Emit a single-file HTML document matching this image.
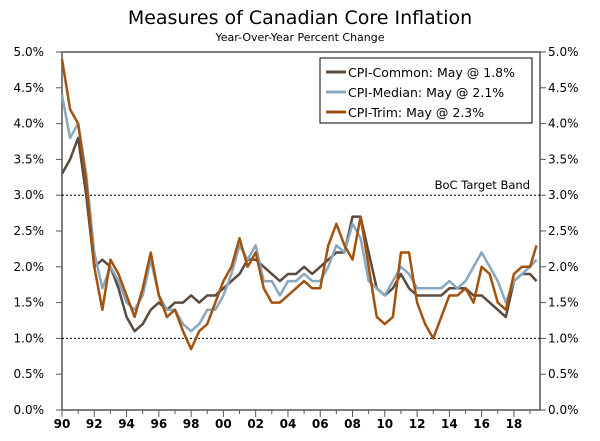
<!DOCTYPE html>
<html><head><meta charset="utf-8"><style>
body{margin:0;background:#fff;width:600px;height:436px;overflow:hidden}
svg{font-family:"DejaVu Sans","Liberation Sans",sans-serif}
</style></head><body>
<svg id="chart" width="600" height="436" viewBox="0 0 600 436">
<text x="300" y="24" text-anchor="middle" font-size="19" fill="#000">Measures of Canadian Core Inflation</text>
<text x="300" y="41" text-anchor="middle" font-size="11" fill="#000">Year-Over-Year Percent Change</text>
<g id="axes"></g><g id="series"></g>
<g>
<rect x="320" y="58" width="212" height="65" fill="#fff" stroke="#000" stroke-width="1"/>
<line x1="326" y1="72" x2="346" y2="72" stroke="#5a4a3f" stroke-width="3"/>
<text x="348" y="77" font-size="12.5">CPI-Common: May @ 1.8%</text>
<line x1="326" y1="92" x2="346" y2="92" stroke="#89a7bd" stroke-width="3"/>
<text x="348" y="97" font-size="12.5">CPI-Median: May @ 2.1%</text>
<line x1="326" y1="112" x2="346" y2="112" stroke="#a2520f" stroke-width="3"/>
<text x="348" y="117" font-size="12.5">CPI-Trim: May @ 2.3%</text>
</g>
<text x="530" y="189" text-anchor="end" font-size="11.5">BoC Target Band</text>
</svg>
<script>
const years=[];for(let i=0;i<59;i++)years.push(1990+i*0.5);years.push(2019.4);
const trim=[4.9,4.2,4.0,3.2,2.0,1.4,2.1,1.9,1.6,1.3,1.7,2.2,1.6,1.3,1.4,1.1,0.85,1.1,1.2,1.5,1.8,2.0,2.4,2.0,2.2,1.7,1.5,1.5,1.6,1.7,1.8,1.7,1.7,2.3,2.6,2.3,2.1,2.7,2.0,1.3,1.2,1.3,2.2,2.2,1.5,1.2,1.0,1.3,1.6,1.6,1.7,1.5,2.0,1.9,1.5,1.4,1.9,2.0,2.0,2.3];
const median=[4.4,3.8,4.0,3.3,2.2,1.7,2.0,1.8,1.5,1.4,1.6,2.1,1.6,1.4,1.4,1.2,1.1,1.2,1.4,1.4,1.6,1.9,2.3,2.1,2.3,1.8,1.8,1.6,1.8,1.8,1.9,1.8,1.8,2.0,2.3,2.2,2.6,2.4,1.8,1.7,1.6,1.8,2.0,1.9,1.7,1.7,1.7,1.7,1.8,1.7,1.8,2.0,2.2,2.0,1.8,1.5,1.8,1.9,2.0,2.1];
const common=[3.3,3.5,3.8,3.0,2.0,2.1,2.0,1.7,1.3,1.1,1.2,1.4,1.5,1.4,1.5,1.5,1.6,1.5,1.6,1.6,1.7,1.8,1.9,2.1,2.1,2.0,1.9,1.8,1.9,1.9,2.0,1.9,2.0,2.1,2.2,2.2,2.7,2.7,2.2,1.7,1.6,1.7,1.9,1.7,1.6,1.6,1.6,1.6,1.7,1.7,1.7,1.6,1.6,1.5,1.4,1.3,1.8,1.9,1.9,1.8];
const yTicks=[0,0.5,1,1.5,2,2.5,3,3.5,4,4.5,5];
const xTickLabels=["90","92","94","96","98","00","02","04","06","08","10","12","14","16","18"];
const X0=62,X1=540,Y0=410,Y1=52;
const xs=v=>X0+(v-1990)*16.14;
const ys=v=>Y0-(v/5)*(Y0-Y1);
const NS="http://www.w3.org/2000/svg";
const ax=document.getElementById('axes'),sg=document.getElementById('series');
function mk(tag,attrs,parent){const e=document.createElementNS(NS,tag);for(const k in attrs)e.setAttribute(k,attrs[k]);parent.appendChild(e);return e;}
let l=mk('rect',{x:X0,y:Y1,width:X1-X0,height:Y0-Y1,fill:'none',stroke:'#555','stroke-width':1.5},ax);


[1,3].forEach(v=>{const d=mk('line',{x1:X0,x2:X1,y1:ys(v),y2:ys(v),stroke:'#000','stroke-dasharray':'2,2','stroke-width':1},ax);

});
yTicks.forEach(v=>{
mk('line',{x1:X0-6,x2:X0,y1:ys(v),y2:ys(v),stroke:'#555'},ax);
mk('line',{x1:X1,x2:X1+6,y1:ys(v),y2:ys(v),stroke:'#555'},ax);
const t=mk('text',{x:44,y:ys(v)+4,'text-anchor':'end','font-size':12},ax);t.textContent=v.toFixed(1)+'%';


const t2=mk('text',{x:548,y:ys(v)+4,'font-size':12},ax);t2.textContent=v.toFixed(1)+'%';

});
for(let yr=1990;yr<=2019;yr++){mk('line',{x1:xs(yr),x2:xs(yr),y1:Y0,y2:Y0+(yr%2==0?7:4),stroke:'#555'},ax);}
xTickLabels.forEach((s,i)=>{const t=mk('text',{x:xs(1990+2*i),y:428,'text-anchor':'middle','font-size':12,'font-weight':'bold'},ax);t.textContent=s;

});
function draw(arr,color,name){const p=mk('polyline',{points:arr.map((v,i)=>xs(years[i])+','+ys(v)).join(' '),fill:'none',stroke:color,'stroke-width':2.5,'stroke-linejoin':'round'},sg);

}
draw(common,'#5a4a3f','cpi-common-line');
draw(median,'#89a7bd','cpi-median-line');
draw(trim,'#a2520f','cpi-trim-line');
</script>
</body></html>
